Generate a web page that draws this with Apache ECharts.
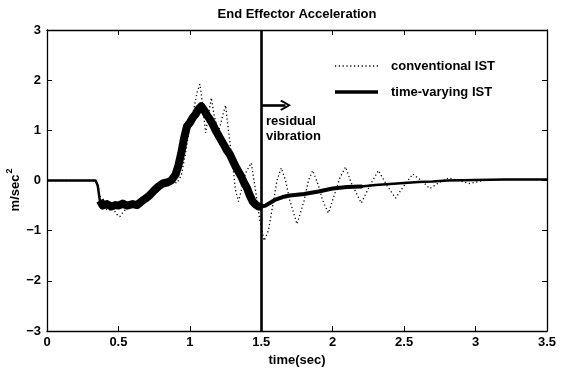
<!DOCTYPE html>
<html>
<head>
<meta charset="utf-8">
<script src="https://cdn.jsdelivr.net/npm/echarts@6/dist/echarts.min.js"></script>
<style>
  html, body { margin: 0; padding: 0; background: #fff; }
  #chart { width: 561px; height: 372px; }
</style>
</head>
<body>
<div id="chart"></div>
<script>
const FONT = '"Liberation Sans", Arial, Helvetica, sans-serif';

// End effector acceleration (m/s^2) against time (s)
const conventionalTime = [
  0, 0.34, 0.36, 0.38, 0.40, 0.43, 0.46, 0.49, 0.51, 0.54, 0.57, 0.60, 0.64, 0.68,
  0.72, 0.76, 0.80, 0.84, 0.88, 0.91, 0.94, 0.97, 1.00, 1.03, 1.05, 1.07, 1.09, 1.11,
  1.13, 1.15, 1.17, 1.20, 1.23, 1.25, 1.27, 1.30, 1.32, 1.34, 1.36, 1.39, 1.43, 1.46,
  1.49, 1.52, 1.55, 1.58, 1.61, 1.64, 1.67, 1.70, 1.75, 1.80, 1.83, 1.86, 1.90, 1.93,
  1.97, 2.01, 2.05, 2.09, 2.13, 2.20, 2.26, 2.32, 2.38, 2.44, 2.50, 2.56, 2.62, 2.68,
  2.74, 2.81, 2.88, 2.96, 3.05, 3.20, 3.50
];
const conventionalAccel = [
  0, 0, -0.15, -0.45, -0.55, -0.60, -0.55, -0.68, -0.72, -0.60, -0.55, -0.50, -0.50, -0.38,
  -0.30, -0.20, -0.12, -0.05, -0.02, -0.05, 0.10, 0.55, 1.10, 1.45, 1.75, 1.92, 1.50, 0.95,
  1.30, 1.65, 1.30, 0.95, 1.30, 1.50, 1.00, 0.30, -0.20, -0.42, -0.20, 0.15, 0.35, -0.20,
  -0.80, -1.20, -1.00, -0.50, 0.00, 0.25, 0.00, -0.40, -0.87, -0.40, 0.00, 0.20, -0.10, -0.40,
  -0.65, -0.30, 0.05, 0.27, -0.05, -0.45, -0.10, 0.20, -0.10, -0.35, -0.10, 0.13, 0.00, -0.16,
  -0.05, 0.05, 0.00, -0.06, 0.00, 0.02, 0.02
];

const timeVaryingTime = [
  0, 0.34, 0.355, 0.37, 0.39, 0.42, 0.45, 0.48, 0.50, 0.53, 0.56, 0.60, 0.63, 0.66,
  0.69, 0.72, 0.75, 0.78, 0.81, 0.84, 0.87, 0.90, 0.92, 0.94, 0.96, 0.98, 1.00, 1.02,
  1.04, 1.06, 1.08, 1.10, 1.12, 1.14, 1.16, 1.18, 1.20, 1.22, 1.24, 1.26, 1.28, 1.30,
  1.32, 1.34, 1.36, 1.38, 1.40, 1.42, 1.44, 1.46, 1.48, 1.50, 1.53, 1.56, 1.60, 1.65,
  1.70, 1.80, 1.90, 2.00, 2.10, 2.20, 2.30, 2.40, 2.50, 2.60, 2.70, 2.80, 3.00, 3.20, 3.50
];
const timeVaryingAccel = [
  0, 0, -0.10, -0.40, -0.50, -0.47, -0.52, -0.49, -0.50, -0.46, -0.50, -0.47, -0.49, -0.42,
  -0.36, -0.29, -0.20, -0.12, -0.06, -0.04, 0.00, 0.12, 0.30, 0.55, 0.85, 1.08, 1.15, 1.25,
  1.32, 1.42, 1.48, 1.40, 1.30, 1.22, 1.12, 1.00, 0.90, 0.80, 0.70, 0.60, 0.52, 0.40,
  0.28, 0.18, 0.08, -0.05, -0.15, -0.30, -0.42, -0.48, -0.52, -0.52, -0.50, -0.45, -0.38, -0.33,
  -0.30, -0.27, -0.22, -0.16, -0.13, -0.12, -0.09, -0.07, -0.05, -0.03, -0.02, 0.00, 0.01, 0.02, 0.02
];

// Axis scales
const xRange = { min: 0, max: 3.5, step: 0.5 };
const yRange = { min: -3, max: 3, step: 1 };

// Residual vibration marker
const residualStart = 1.5;
const arrowEnd = 1.67;
const arrowLevel = 1.5;

const zip = (ts, vs) => ts.map((t, i) => [t, vs[i]]);
const conventionalData = zip(conventionalTime, conventionalAccel);
const timeVaryingData = zip(timeVaryingTime, timeVaryingAccel);
const within = (data, a, b) => data.filter(p => p[0] >= a && p[0] <= b);

const labelStyle = { color: '#000', fontFamily: FONT, fontWeight: 'bold', fontSize: 13 };
const black = '#000';
const boldFont = 'bold 13px ' + FONT;
const dottedStyle = { color: black, width: 1.3, type: [1.2, 2.6] };

function xAxisDef(pos, show) {
  return {
    type: 'value', position: pos, min: xRange.min, max: xRange.max, interval: xRange.step,
    axisLine: { show: true, onZero: false, lineStyle: { color: black, width: 1.3 } },
    axisTick: { show: true, inside: true, length: 5, lineStyle: { color: black, width: 1 } },
    axisLabel: Object.assign({ show: show, margin: 5 }, labelStyle),
    splitLine: { show: false },
    name: show ? 'time(sec)' : '',
    nameLocation: 'middle', nameGap: 23,
    nameTextStyle: labelStyle
  };
}
function yAxisDef(pos, show) {
  return {
    type: 'value', position: pos, min: yRange.min, max: yRange.max, interval: yRange.step,
    axisLine: { show: true, onZero: false, lineStyle: { color: black, width: 1.3 } },
    axisTick: { show: true, inside: true, length: 5, lineStyle: { color: black, width: 1 } },
    axisLabel: Object.assign({ show: show, margin: 6,
      formatter: v => String(v).replace('-', '\u2212') }, labelStyle),
    splitLine: { show: false }
  };
}

const arrowHead = 'path://M5,0 L10,8 L8.6,9.2 L5,3 L1.4,9.2 L0,8 Z';

// Legend key, drawn as plain graphics
const legendKeys = [
  { label: 'conventional IST', y: 66, style: { stroke: black, lineWidth: 1.3, lineDash: [1.2, 2.6] } },
  { label: 'time-varying IST', y: 92, style: { stroke: black, lineWidth: 3.5 } }
];
const legendGraphics = [];
legendKeys.forEach(k => {
  legendGraphics.push({ type: 'line', shape: { x1: 335, y1: k.y, x2: 378, y2: k.y }, style: k.style });
  legendGraphics.push({ type: 'text', x: 391, y: k.y, style: { text: k.label, fill: black,
    font: boldFont, align: 'left', verticalAlign: 'middle' } });
});

const chart = echarts.init(document.getElementById('chart'), null, { renderer: 'canvas' });
chart.setOption({
  animation: false,
  backgroundColor: '#fff',
  grid: { left: 47, right: 14, top: 30, bottom: 31, containLabel: false },
  xAxis: [xAxisDef('bottom', true), xAxisDef('top', false)],
  yAxis: [yAxisDef('left', true), yAxisDef('right', false)],
  graphic: [
    { type: 'text', x: 297, y: 14, style: { text: 'End Effector Acceleration',
        align: 'center', verticalAlign: 'middle', fill: black, font: boldFont } },
    { type: 'text', x: 15, y: 193, rotation: Math.PI / 2,
      style: { text: 'm/sec', align: 'center', verticalAlign: 'middle', fill: black, font: boldFont } },
    { type: 'text', x: 10, y: 171, rotation: Math.PI / 2,
      style: { text: '2', align: 'center', verticalAlign: 'middle', fill: black, font: 'bold 9px ' + FONT } },
    { type: 'text', x: 266, y: 114, style: { text: 'residual\nvibration', fill: black,
        font: boldFont, lineHeight: 15, align: 'left', verticalAlign: 'top' } }
  ].concat(legendGraphics),
  series: [
    {
      name: 'conventional IST', type: 'line', data: conventionalData,
      symbol: 'none', showSymbol: false, z: 2, silent: true,
      lineStyle: dottedStyle
    },
    {
      name: 'time-varying IST', type: 'line', data: timeVaryingData,
      symbol: 'none', showSymbol: false, z: 3, silent: true,
      lineStyle: { color: black, width: 2.5, join: 'round' },
      markLine: {
        silent: true, animation: false, label: { show: false },
        data: [
          [{ coord: [residualStart, yRange.min], symbol: 'none' },
           { coord: [residualStart, yRange.max], symbol: 'none' }],
          [{ coord: [residualStart, arrowLevel], symbol: 'none' },
           { coord: [arrowEnd, arrowLevel], symbol: arrowHead, symbolSize: [11, 11] }]
        ],
        lineStyle: { color: black, width: 2.6, type: 'solid' }
      }
    },
    {
      name: 'time-varying IST band', type: 'line', data: within(timeVaryingData, 0.37, 1.5),
      symbol: 'none', showSymbol: false, z: 3, silent: true,
      lineStyle: { color: black, width: 8, join: 'round', cap: 'butt' }
    },
    {
      name: 'time-varying IST tail', type: 'line', data: within(timeVaryingData, 1.48, 2.2),
      symbol: 'none', showSymbol: false, z: 3, silent: true,
      lineStyle: { color: black, width: 4, join: 'round', cap: 'round' }
    }
  ]
});
</script>
</body>
</html>
